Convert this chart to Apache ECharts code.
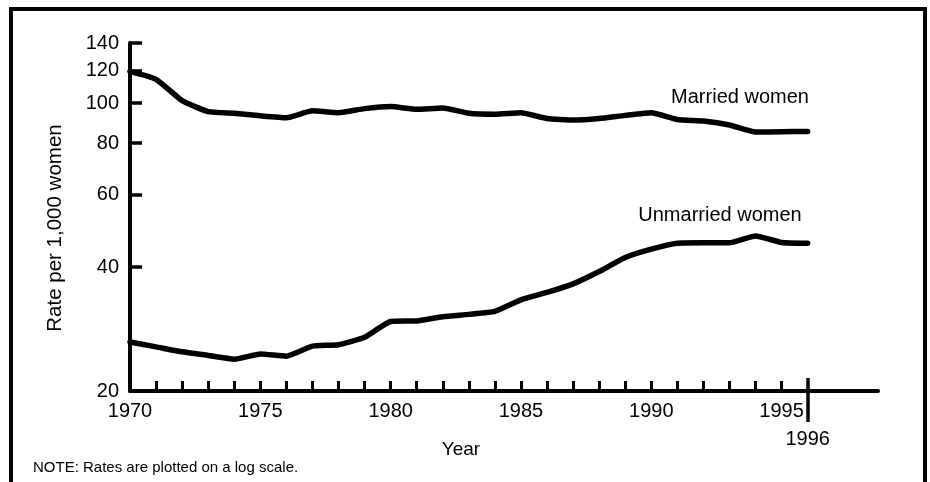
<!DOCTYPE html>
<html>
<head>
<meta charset="utf-8">
<script src="https://cdn.jsdelivr.net/npm/echarts@6/dist/echarts.min.js"></script>
<style>
  html, body { margin: 0; padding: 0; background: #fff; }
  #chart { width: 930px; height: 482px; }
</style>
</head>
<body>
<div id="chart"></div>
<script>
// years on the x axis, one point per year
const YEARS = [1970, 1971, 1972, 1973, 1974, 1975, 1976, 1977, 1978, 1979,
               1980, 1981, 1982, 1983, 1984, 1985, 1986, 1987, 1988, 1989,
               1990, 1991, 1992, 1993, 1994, 1995, 1996];

// rate per 1,000 women
const MARRIED = [119.5, 114.3, 101.4, 95.4, 94.5, 93.2, 92.2, 95.8, 94.8, 97.0,
                 98.1, 96.6, 97.3, 94.5, 94.0, 94.8, 91.8, 91.0, 91.8, 93.4,
                 94.8, 91.3, 90.5, 88.5, 85.1, 85.2, 85.4];
const UNMARRIED = [26.3, 25.6, 24.9, 24.4, 23.9, 24.6, 24.3, 25.7, 25.9, 27.0,
                   29.5, 29.6, 30.3, 30.7, 31.2, 33.3, 34.7, 36.4, 39.0, 42.2,
                   44.2, 45.7, 45.8, 45.8, 47.6, 45.9, 45.7];

// tick marks and labels
const Y_TICKS = [20, 40, 60, 80, 100, 120, 140];
const X_LABEL_YEARS = [1970, 1975, 1980, 1985, 1990, 1995];
const X_TICK_YEARS = [1971, 1972, 1973, 1974, 1975, 1976, 1977, 1978, 1979, 1980,
                      1981, 1982, 1983, 1984, 1985, 1986, 1987, 1988, 1989, 1990,
                      1991, 1992, 1993, 1994, 1995];
const LAST_YEAR = 1996;

const FONT = "Liberation Sans";
const INK = "#000";

const chart = echarts.init(document.getElementById("chart"));

const lineSeries = (name, values) => ({
  name,
  type: "line",
  xAxisIndex: 0,
  yAxisIndex: 0,
  showSymbol: false,
  smooth: 0.15,
  lineStyle: { color: INK, width: 5.5, cap: "round", join: "round" },
  data: YEARS.map((y, i) => [y, values[i]]),
});

// the 1996 marker: short tick up, long tick down with its own label
const yearMarkAxis = (inside, length, withLabel) => ({
  type: "value", position: "bottom", offset: 0, min: 1970, max: 1998.7,
  axisLine: { show: false },
  axisTick: { show: true, inside, length, customValues: [LAST_YEAR],
              lineStyle: { color: INK, width: 3.5 } },
  axisLabel: withLabel
    ? { show: true, customValues: [LAST_YEAR], margin: 38, fontSize: 20,
        fontFamily: FONT, color: INK, formatter: v => String(v) }
    : { show: false },
  splitLine: { show: false },
});

chart.setOption({
  animation: false,
  grid: { left: 130, right: 52, top: 43, bottom: 91, outerBoundsMode: "none" },
  xAxis: [
    {
      type: "value", position: "bottom", min: 1970, max: 1998.7,
      axisLine: { lineStyle: { color: INK, width: 4 } },
      axisTick: { show: true, inside: true, length: 10, customValues: X_TICK_YEARS,
                  lineStyle: { color: INK, width: 3 } },
      axisLabel: { customValues: X_LABEL_YEARS, margin: 10, fontSize: 20,
                   fontFamily: FONT, color: INK, formatter: v => String(v) },
      splitLine: { show: false },
    },
    yearMarkAxis(true, 13, false),
    yearMarkAxis(false, 31, true),
  ],
  yAxis: [
    {
      // data axis (log scale)
      type: "log", logBase: 10, min: 20, max: 140,
      axisLine: { show: true, lineStyle: { color: INK, width: 4 } },
      axisTick: { show: false },
      axisLabel: { show: false },
      splitLine: { show: false },
    },
    {
      // same span in log10 units, only carries the ticks and labels
      type: "value", position: "left",
      min: Math.log10(Y_TICKS[0]), max: Math.log10(Y_TICKS[Y_TICKS.length - 1]),
      axisLine: { show: false },
      axisTick: { show: true, inside: true, length: 12,
                  customValues: Y_TICKS.map(Math.log10),
                  lineStyle: { color: INK, width: 3.5 } },
      axisLabel: { customValues: Y_TICKS.map(Math.log10), margin: 11,
                   fontSize: 20, fontFamily: FONT, color: INK,
                   formatter: v => String(Math.round(Math.pow(10, v))) },
      splitLine: { show: false },
    },
  ],
  graphic: [
    { type: "rect", silent: true, z: 0,
      shape: { x: 11, y: 9, width: 914, height: 520 },
      style: { fill: null, stroke: INK, lineWidth: 4 } },
    { type: "text", x: 55, y: 228, rotation: Math.PI / 2,
      style: { text: "Rate per 1,000 women", fontSize: 20.5, fontFamily: FONT,
               fill: INK, align: "center", verticalAlign: "middle" } },
    { type: "text", x: 461, y: 450,
      style: { text: "Year", fontSize: 19, fontFamily: FONT, fill: INK,
               align: "center", verticalAlign: "middle" } },
    { type: "text", x: 740, y: 97,
      style: { text: "Married women", fontSize: 20, fontFamily: FONT, fill: INK,
               align: "center", verticalAlign: "middle" } },
    { type: "text", x: 720, y: 215,
      style: { text: "Unmarried women", fontSize: 20, fontFamily: FONT, fill: INK,
               align: "center", verticalAlign: "middle" } },
    { type: "text", x: 33, y: 468,
      style: { text: "NOTE: Rates are plotted on a log scale.", fontSize: 15,
               fontFamily: FONT, fill: INK, align: "left", verticalAlign: "middle" } },
  ],
  series: [
    lineSeries("Married women", MARRIED),
    lineSeries("Unmarried women", UNMARRIED),
  ],
});
</script>
</body>
</html>
